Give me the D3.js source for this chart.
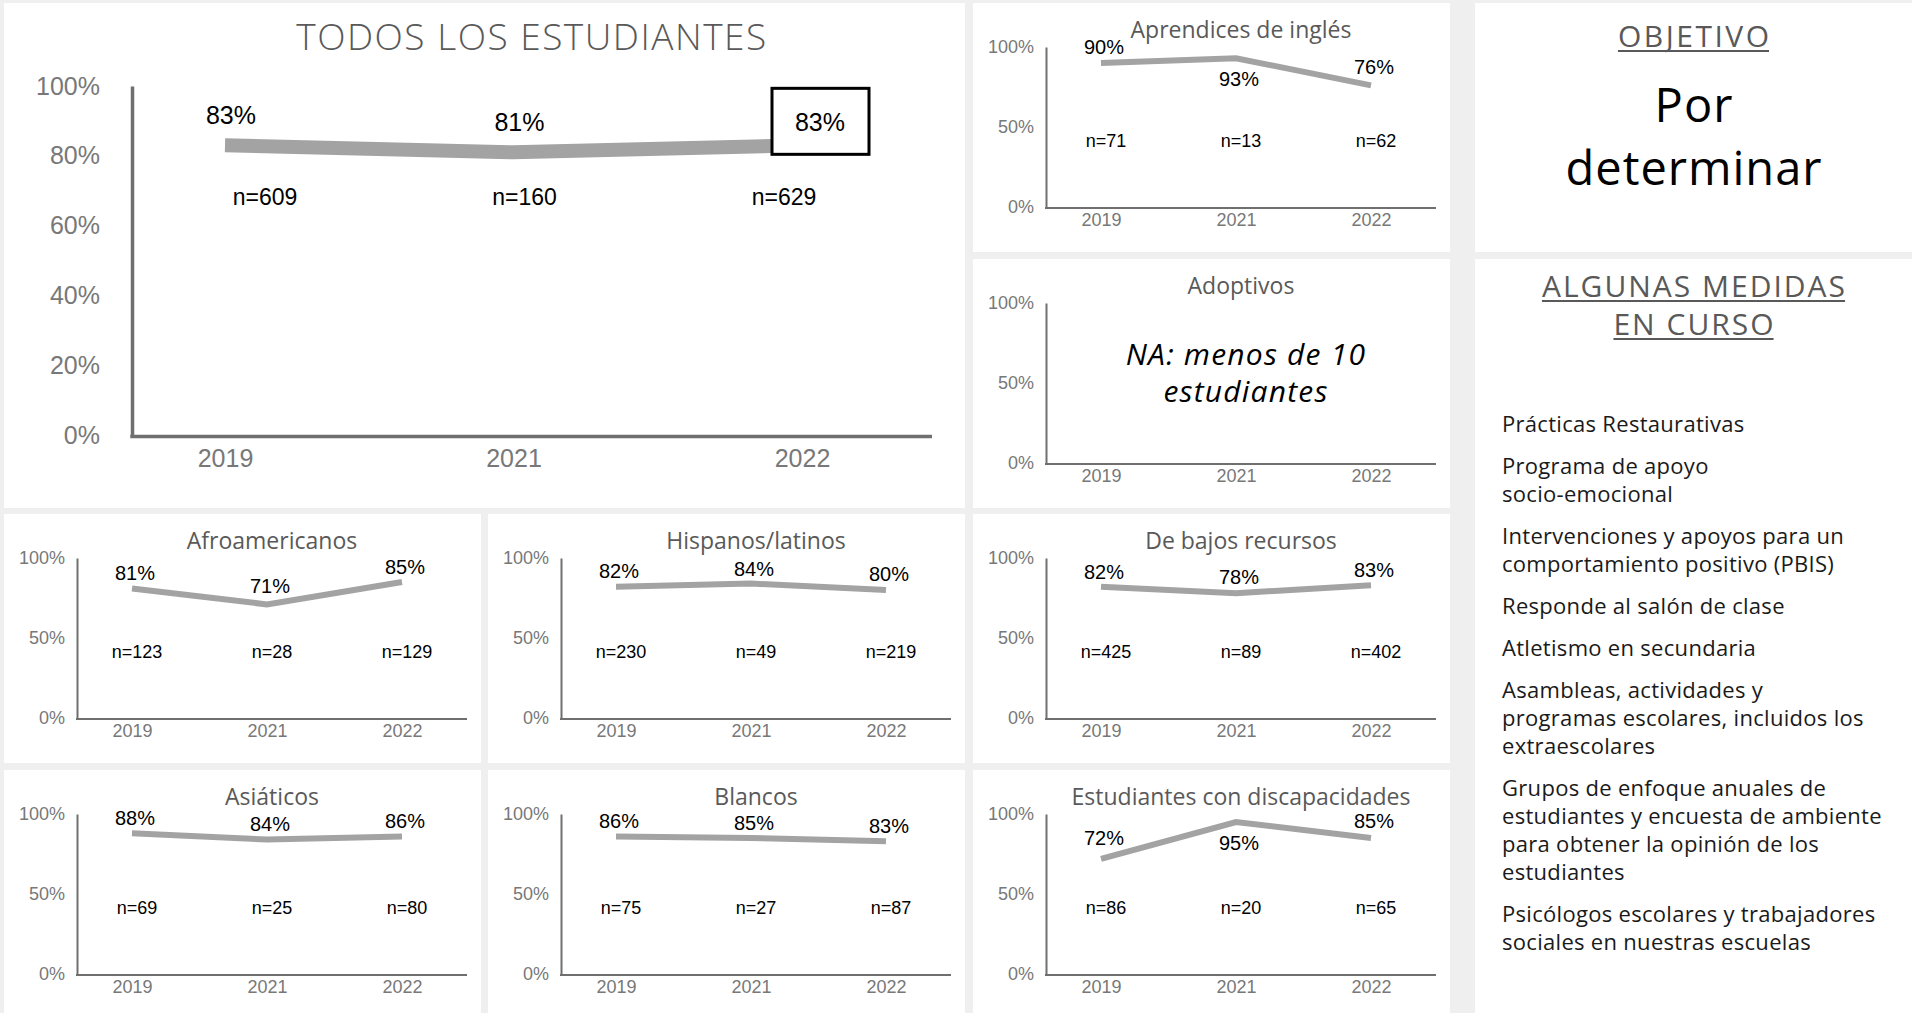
<!DOCTYPE html>
<html lang="es">
<head>
<meta charset="utf-8">
<title>Resultados por grupo de estudiantes</title>
<script src="https://cdn.jsdelivr.net/npm/d3@7"></script>
<style>
  html, body { margin: 0; padding: 0; background: #efefef; }
  svg { display: block; }
</style>
</head>
<body>
<svg id="chart" width="1912" height="1013"></svg>
<script>
// ---- Data ----------------------------------------------------------------
const years = ["2019", "2021", "2022"];

const todosPct = [83, 81, 83];
const todosN = [609, 160, 629];

const aprendicesPct = [90, 93, 76];
const aprendicesN = [71, 13, 62];

const afroPct = [81, 71, 85];
const afroN = [123, 28, 129];

const hispanosPct = [82, 84, 80];
const hispanosN = [230, 49, 219];

const bajosPct = [82, 78, 83];
const bajosN = [425, 89, 402];

const asiaticosPct = [88, 84, 86];
const asiaticosN = [69, 25, 80];

const blancosPct = [86, 85, 83];
const blancosN = [75, 27, 87];

const discapPct = [72, 95, 85];
const discapN = [86, 20, 65];

const mainTicks = [0, 20, 40, 60, 80, 100];
const smallTicks = [0, 50, 100];

const adoptivosNote = ["NA: menos de 10", "estudiantes"];

const objetivoTitle = "OBJETIVO";
const objetivoText = ["Por", "determinar"];

const medidasTitle = ["ALGUNAS MEDIDAS", "EN CURSO"];
const medidas = [
  ["Prácticas Restaurativas"],
  ["Programa de apoyo", "socio-emocional"],
  ["Intervenciones y apoyos para un", "comportamiento positivo (PBIS)"],
  ["Responde al salón de clase"],
  ["Atletismo en secundaria"],
  ["Asambleas, actividades y", "programas escolares, incluidos los", "extraescolares"],
  ["Grupos de enfoque anuales de", "estudiantes y encuesta de ambiente", "para obtener la opinión de los", "estudiantes"],
  ["Psicólogos escolares y trabajadores", "sociales en nuestras escuelas"]
];

// ---- Styling ---------------------------------------------------------------
const TEXT_FONT = "'Open Sans', 'Noto Sans', sans-serif";
const NUM_FONT = "'Liberation Sans', Arial, sans-serif";
const LINE_GREY = "#a3a3a3";
const AXIS_GREY = "#6f6f6f";
const TICK_GREY = "#787878";
const TITLE_GREY = "#595959";

const svg = d3.select("#chart");
svg.append("rect").attr("width", 1912).attr("height", 1013).attr("fill", "#efefef");

function panel(x, y, w, h) {
  svg.append("rect").attr("x", x).attr("y", y).attr("width", w).attr("height", h).attr("fill", "#fff");
  return svg.append("g").attr("transform", `translate(${x},${y})`);
}

const pct = d => d + "%";

// y of the polyline at horizontal position px (null outside the line)
function lineYAt(pts, px) {
  if (px < pts[0][0] || px > pts[pts.length - 1][0]) return null;
  for (let i = 1; i < pts.length; i++) {
    const [x0, y0] = pts[i - 1], [x1, y1] = pts[i];
    if (px <= x1) return y0 + (y1 - y0) * (px - x0) / (x1 - x0);
  }
  return pts[pts.length - 1][1];
}

// ---- Large chart: all students ---------------------------------------------
function drawMain(g, title, values, counts) {
  const L = { axisX: 128, axisRight: 928, top: 83, bottom: 432, first: 221, last: 798, nFirst: 261, nLast: 780 };
  const y = d3.scaleLinear().domain([0, 100]).range([L.bottom, L.top]);
  const x = d3.scalePoint().domain(years).range([L.first, L.last]);
  const xn = d3.scalePoint().domain(years).range([L.nFirst, L.nLast]);

  g.append("text")
    .attr("x", (L.axisX + L.axisRight) / 2).attr("y", 47)
    .attr("text-anchor", "middle")
    .style("font-family", TEXT_FONT).style("font-size", "37px").style("font-weight", 300)
    .style("letter-spacing", "1.5px")
    .attr("fill", TITLE_GREY)
    .text(title);

  const ya = g.append("g").attr("transform", `translate(${L.axisX},0)`)
    .call(d3.axisLeft(y).tickValues(mainTicks).tickFormat(pct).tickSize(0).tickPadding(32));
  ya.select(".domain").attr("stroke", AXIS_GREY).attr("stroke-width", 3.5);
  ya.selectAll("text").style("font-family", NUM_FONT).style("font-size", "25px").attr("fill", TICK_GREY);

  g.append("line")
    .attr("x1", L.axisX - 1.75).attr("x2", L.axisRight)
    .attr("y1", L.bottom + 1.5).attr("y2", L.bottom + 1.5)
    .attr("stroke", AXIS_GREY).attr("stroke-width", 3.5);

  const xa = g.append("g").attr("transform", `translate(0,${L.bottom})`)
    .call(d3.axisBottom(x).tickSize(0).tickPadding(14));
  xa.select(".domain").remove();
  xa.selectAll("text").style("font-family", NUM_FONT).style("font-size", "25px").attr("fill", TICK_GREY);

  g.append("path")
    .datum(values)
    .attr("d", d3.line().x((d, i) => x(years[i])).y(d => y(d)))
    .attr("fill", "none").attr("stroke", LINE_GREY).attr("stroke-width", 14)
    .attr("stroke-linejoin", "miter");

  // value labels; the latest year is framed
  const lastI = values.length - 1;
  values.forEach((v, i) => {
    if (i === lastI) {
      g.append("rect")
        .attr("x", x(years[i]) - 30).attr("y", y(v) - 57)
        .attr("width", 97).attr("height", 66)
        .attr("fill", "#fff").attr("stroke", "#000").attr("stroke-width", 3);
      g.append("text")
        .attr("x", x(years[i]) + 18).attr("y", y(v) - 14)
        .attr("text-anchor", "middle")
        .style("font-family", NUM_FONT).style("font-size", "25px").attr("fill", "#000")
        .text(pct(v));
    } else {
      g.append("text")
        .attr("x", x(years[i]) + 6).attr("y", y(v) - 21)
        .attr("text-anchor", "middle")
        .style("font-family", NUM_FONT).style("font-size", "25px").attr("fill", "#000")
        .text(pct(v));
    }
  });

  counts.forEach((n, i) => {
    g.append("text")
      .attr("x", xn(years[i])).attr("y", L.bottom - 230)
      .attr("text-anchor", "middle")
      .style("font-family", NUM_FONT).style("font-size", "23px").attr("fill", "#000")
      .text("n=" + n);
  });
}

// ---- Small multiples ---------------------------------------------------------
function drawSmall(g, title, values, counts, note) {
  const L = { axisX: 73, axisRight: 463, top: 44, bottom: 204, first: 128, last: 398, titleBase: 35 };
  const y = d3.scaleLinear().domain([0, 100]).range([L.bottom, L.top]);
  const x = d3.scalePoint().domain(years).range([L.first, L.last]);
  const cx = (L.axisX + L.axisRight) / 2;

  const titleEl = g.append("text")
    .attr("x", cx).attr("y", L.titleBase)
    .attr("text-anchor", "middle")
    .style("font-family", TEXT_FONT).style("font-size", "23px")
    .attr("fill", TITLE_GREY)
    .text(title);
  const titleHalf = titleEl.node().getComputedTextLength() / 2;

  const ya = g.append("g").attr("transform", `translate(${L.axisX},0)`)
    .call(d3.axisLeft(y).tickValues(smallTicks).tickFormat(pct).tickSize(0).tickPadding(12));
  ya.select(".domain").attr("stroke", AXIS_GREY).attr("stroke-width", 2);
  ya.selectAll("text").style("font-family", NUM_FONT).style("font-size", "18px").attr("fill", TICK_GREY);

  g.append("line")
    .attr("x1", L.axisX - 1).attr("x2", L.axisRight)
    .attr("y1", L.bottom + 1).attr("y2", L.bottom + 1)
    .attr("stroke", AXIS_GREY).attr("stroke-width", 2);

  const xa = g.append("g").attr("transform", `translate(0,${L.bottom})`)
    .call(d3.axisBottom(x).tickSize(0).tickPadding(6));
  xa.select(".domain").remove();
  xa.selectAll("text").style("font-family", NUM_FONT).style("font-size", "18px").attr("fill", TICK_GREY);

  if (values) {
    const pts = values.map((v, i) => [x(years[i]), y(v)]);
    g.append("path")
      .datum(values)
      .attr("d", d3.line().x((d, i) => x(years[i])).y(d => y(d)))
      .attr("fill", "none").attr("stroke", LINE_GREY).attr("stroke-width", 6)
      .attr("stroke-linejoin", "miter");

    // labels clear the line above it, or drop below when the title is in the way
    values.forEach((v, i) => {
      const lx = x(years[i]) + 3;
      const t = g.append("text")
        .attr("x", lx)
        .attr("text-anchor", "middle")
        .style("font-family", NUM_FONT).style("font-size", "20px").attr("fill", "#000")
        .text(pct(v));
      const hw = t.node().getComputedTextLength() / 2;
      const ys = [lineYAt(pts, lx - hw), lineYAt(pts, lx), lineYAt(pts, lx + hw), pts[i][1]]
        .filter(d => d !== null);
      let base = d3.min(ys) - 8;
      const hitsTitle = (base - 15 < L.titleBase + 2) &&
        (lx + hw > cx - titleHalf - 2) && (lx - hw < cx + titleHalf + 2);
      if (hitsTitle) base = d3.max(ys) + 23;
      t.attr("y", base);
    });

    counts.forEach((n, i) => {
      g.append("text")
        .attr("x", x(years[i]) + 5).attr("y", L.bottom - 60)
        .attr("text-anchor", "middle")
        .style("font-family", NUM_FONT).style("font-size", "18px").attr("fill", "#000")
        .text("n=" + n);
    });
  }

  if (note) {
    note.forEach((line, i) => {
      g.append("text")
        .attr("x", cx + 5).attr("y", 106 + i * 37)
        .attr("text-anchor", "middle")
        .style("font-family", TEXT_FONT).style("font-size", "30px").style("font-style", "italic")
        .style("letter-spacing", "1.2px")
        .attr("fill", "#000")
        .text(line);
    });
  }
}

// ---- Text panels -------------------------------------------------------------
function underlinedTitle(g, lines, cx, y0, step, size, spacing) {
  lines.forEach((line, i) => {
    const t = g.append("text")
      .attr("x", cx + spacing / 2).attr("y", y0 + i * step)
      .attr("text-anchor", "middle")
      .style("font-family", TEXT_FONT).style("font-size", size + "px")
      .style("letter-spacing", spacing + "px")
      .attr("fill", TITLE_GREY)
      .text(line);
    const w = t.node().getComputedTextLength() - spacing;
    g.append("rect")
      .attr("x", cx - w / 2).attr("y", y0 + i * step + 3)
      .attr("width", w).attr("height", 2)
      .attr("fill", TITLE_GREY);
  });
}

// ---- Layout ---------------------------------------------------------------------
drawMain(panel(4, 3, 961, 505), "TODOS LOS ESTUDIANTES", todosPct, todosN);

drawSmall(panel(973, 3, 477, 249), "Aprendices de inglés", aprendicesPct, aprendicesN);
drawSmall(panel(973, 259, 477, 249), "Adoptivos", null, null, adoptivosNote);

drawSmall(panel(4, 514, 477, 249), "Afroamericanos", afroPct, afroN);
drawSmall(panel(488, 514, 477, 249), "Hispanos/latinos", hispanosPct, hispanosN);
drawSmall(panel(973, 514, 477, 249), "De bajos recursos", bajosPct, bajosN);

drawSmall(panel(4, 770, 477, 243), "Asiáticos", asiaticosPct, asiaticosN);
drawSmall(panel(488, 770, 477, 243), "Blancos", blancosPct, blancosN);
drawSmall(panel(973, 770, 477, 243), "Estudiantes con discapacidades", discapPct, discapN);

// goal panel
const objG = panel(1475, 3, 437, 249);
underlinedTitle(objG, [objetivoTitle], 218.5, 44, 0, 30, 2.5);
objetivoText.forEach((line, i) => {
  objG.append("text")
    .attr("x", 219).attr("y", 119 + i * 63)
    .attr("text-anchor", "middle")
    .style("font-family", TEXT_FONT).style("font-size", "47px")
    .style("letter-spacing", "1px")
    .attr("fill", "#000")
    .text(line);
});

// ongoing measures panel
const medG = panel(1475, 259, 437, 754);
underlinedTitle(medG, medidasTitle, 218.5, 38, 38, 30, 2);
let yPos = 173;
medidas.forEach(item => {
  item.forEach((line, j) => {
    medG.append("text")
      .attr("x", 27).attr("y", yPos + j * 28)
      .style("font-family", TEXT_FONT).style("font-size", "22px")
      .style("letter-spacing", "0.3px")
      .attr("fill", "#1a1a1a")
      .text(line);
  });
  yPos += (item.length - 1) * 28 + 42;
});
</script>
</body>
</html>
